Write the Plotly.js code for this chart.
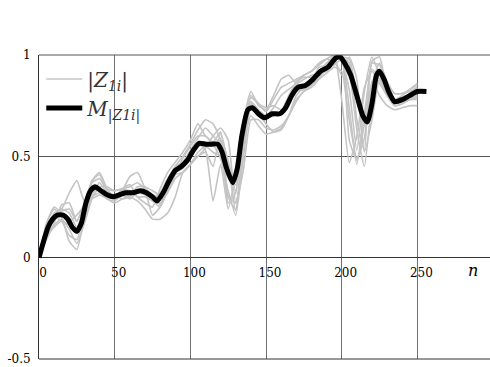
<!DOCTYPE html>
<html>
<head>
<meta charset="utf-8">
<script src="https://cdn.plot.ly/plotly-3.0.1.min.js"></script>
<style>html,body{margin:0;padding:0;background:#fff;}#chart{width:490px;height:367px;}</style>
</head>
<body>
<div id="chart"></div>
<script>
// Shared sample positions for the individual |Z1i| curves
const gN = [0,5,10,15,20,25,30,35,40,45,50,55,60,65,70,75,80,85,90,95,100,105,110,115,120,125,130,135,140,145,150,155,160,165,170,175,180,185,190,195,200,205,210,215,220,225,230,235,240,245,250];

const g1 = [0,.17,.24,.20,.08,.04,.20,.38,.42,.34,.30,.34,.36,.30,.27,.25,.34,.42,.47,.52,.58,.66,.60,.57,.62,.30,.24,.56,.80,.76,.72,.78,.84,.86,.88,.90,.92,.96,.98,.97,1.0,.58,.48,.66,.97,.99,.82,.78,.80,.83,.85];
const g2 = [0,.09,.17,.26,.27,.18,.26,.31,.37,.32,.31,.29,.30,.35,.35,.33,.31,.35,.41,.42,.46,.50,.54,.60,.64,.58,.27,.43,.68,.68,.64,.63,.65,.70,.78,.82,.85,.89,.93,.98,.90,.99,.88,.52,.68,.88,.80,.75,.76,.78,.79];
const g3 = [0,.15,.21,.24,.32,.38,.28,.29,.31,.29,.28,.31,.29,.32,.34,.31,.26,.33,.41,.49,.55,.60,.60,.56,.49,.33,.21,.49,.74,.70,.70,.74,.80,.83,.86,.90,.92,.95,.98,1.0,.78,.47,.60,.84,.92,.86,.80,.75,.76,.78,.80];
const g4 = [0,.11,.16,.19,.14,.07,.17,.29,.35,.35,.33,.34,.35,.37,.34,.30,.32,.39,.45,.47,.53,.59,.64,.60,.56,.27,.32,.66,.82,.75,.73,.80,.88,.90,.86,.88,.90,.91,.96,.99,.99,.96,.68,.53,.96,.95,.86,.81,.81,.82,.84];
const g5 = [0,.14,.22,.24,.22,.15,.24,.37,.39,.33,.30,.32,.33,.30,.30,.28,.25,.33,.42,.44,.49,.55,.57,.55,.58,.48,.33,.58,.76,.72,.69,.70,.72,.80,.86,.84,.87,.94,.95,1.0,.97,.83,.53,.82,.99,.90,.82,.78,.79,.80,.82];
const g6 = [0,.12,.20,.18,.11,.09,.22,.34,.34,.30,.29,.33,.40,.42,.34,.21,.25,.38,.44,.45,.50,.56,.53,.28,.46,.24,.42,.68,.77,.73,.70,.70,.72,.78,.87,.89,.89,.91,.92,.96,1.0,.92,.63,.45,.77,.92,.84,.77,.78,.80,.82];
const g7 = [0,.17,.25,.22,.18,.21,.26,.33,.33,.31,.30,.31,.30,.28,.24,.19,.19,.22,.30,.42,.46,.50,.52,.45,.62,.46,.23,.53,.75,.71,.66,.62,.63,.70,.80,.84,.86,.90,.94,.95,.98,.74,.46,.71,.93,.88,.80,.76,.77,.78,.78];
const g8 = [0,.13,.19,.23,.24,.18,.27,.38,.41,.34,.33,.34,.33,.33,.32,.31,.30,.37,.45,.50,.56,.63,.68,.66,.58,.41,.36,.61,.79,.76,.74,.75,.73,.76,.82,.83,.86,.90,.93,.97,.99,.98,.80,.65,.86,.96,.87,.81,.81,.83,.86];
const g9 = [0,.10,.15,.18,.16,.12,.19,.30,.32,.29,.27,.29,.31,.32,.31,.29,.27,.32,.39,.42,.46,.52,.55,.52,.50,.30,.27,.55,.70,.65,.61,.62,.64,.70,.77,.82,.84,.88,.91,.94,.92,.68,.49,.59,.87,.80,.75,.73,.74,.75,.75];
const grays = [g1,g2,g3,g4,g5,g6,g7,g8,g9];

// Mean curve M|Z1i|
const mN = [0,3,6,9,12,16,19,22,25,28,31,34,37,41,45,49,53,57,62,67,71,75,78,82,86,90,94,98,102,106,110,114,118,121,124,128,131,134,138,141,145,149,154,159,163,167,171,176,181,186,191,196,199,202,206,210,214,217,220,223,225,228,231,235,240,245,250,256];
const mVal = [0,.08,.15,.19,.21,.21,.19,.15,.13,.17,.27,.33,.35,.33,.31,.30,.31,.32,.32,.33,.32,.30,.28,.32,.38,.43,.45,.48,.53,.565,.56,.56,.56,.52,.44,.37,.44,.60,.73,.74,.71,.69,.71,.71,.74,.80,.84,.85,.88,.92,.94,.985,.99,.96,.90,.80,.70,.67,.76,.90,.92,.88,.82,.77,.78,.80,.82,.82];

const xTicks = [0,50,100,150,200,250];
const yTicks = [-0.5,0,0.5,1];
const yTickText = ['-0.5','0','0.5','1'];

const serif = 'DejaVu Serif, serif';

const traces = grays.map((g,i)=>({
  x: gN, y: g, type:'scatter', mode:'lines',
  line:{color:'#c4c4c4', width:1.6, shape:'spline', smoothing:0.5},
  name:'|<i>Z</i><sub><i>1i</i></sub>|',
  showlegend: i===0, hoverinfo:'skip'
}));
traces.push({
  x: mN, y: mVal, type:'scatter', mode:'lines',
  line:{color:'#000', width:5, shape:'spline', smoothing:0.6},
  name:'<i>M</i><sub>|<i>Z1i</i>|</sub>', hoverinfo:'skip'
});

const layout = {
  width:490, height:367,
  margin:{l:39, r:0, t:55, b:8},
  paper_bgcolor:'#fff', plot_bgcolor:'#fff',
  font:{family:serif, size:12, color:'#000'},
  showlegend:true,
  legend:{x:0.005, y:0.985, xanchor:'left', yanchor:'top', bgcolor:'rgba(0,0,0,0)',
          font:{family:serif, size:20, color:'#333'}, itemwidth:36, tracegroupgap:0},
  xaxis:{range:[0,298], tickvals:xTicks, ticktext:xTicks.map(String), showgrid:true, gridcolor:'#707070', gridwidth:1,
         zeroline:false, showline:false, anchor:'free', position:1/3, ticks:'', ticklabelshift:4, ticklabelstandoff:6,
         tickfont:{family:serif, size:12, color:'#000'}},
  yaxis:{range:[-0.5,1], tickvals:yTicks, ticktext:yTickText, showgrid:true, gridcolor:'#555', gridwidth:1,
         zeroline:true, zerolinecolor:'#333', zerolinewidth:1, showline:true, linecolor:'#333', linewidth:1,
         ticks:'', ticklabelstandoff:5, tickfont:{family:serif, size:12, color:'#000'}},
  shapes:[
    {type:'line', xref:'paper', yref:'paper', x0:0, x1:1, y0:1, y1:1, line:{color:'#555', width:1}},
    {type:'line', xref:'paper', yref:'paper', x0:0, x1:1, y0:0, y1:0, line:{color:'#333', width:1}}
  ],
  annotations:[
    {text:'<i>n</i>', xref:'paper', yref:'paper', x:0.963, y:0.29, showarrow:false,
     font:{family:serif, size:16, color:'#000'}, xanchor:'center', yanchor:'middle'}
  ]
};

Plotly.newPlot('chart', traces, layout, {staticPlot:true, displayModeBar:false});
</script>
</body>
</html>
